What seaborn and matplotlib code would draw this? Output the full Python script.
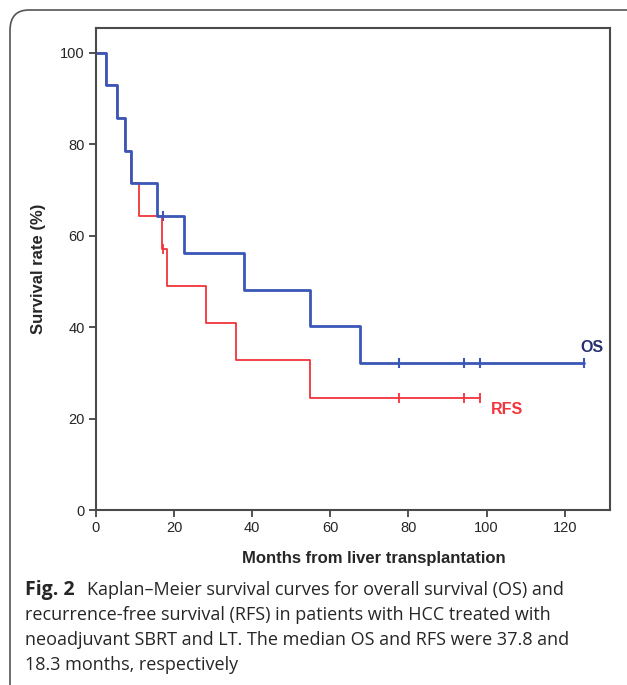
import pandas as pd
import matplotlib.pyplot as plt
import seaborn as sns
from matplotlib.patches import FancyBboxPatch

# Kaplan-Meier step data (months, survival %)
os_times = [0, 2.6, 5.3, 7.3, 9.0, 15.7, 22.6, 37.8, 54.9, 67.7]
os_surv = [100, 92.9, 85.7, 78.6, 71.4, 64.3, 56.3, 48.2, 40.2, 32.1]
os_end = 125.0
os_cens_t = [17.2, 77.5, 94.2, 98.3, 125.0]
os_cens_s = [64.3, 32.1, 32.1, 32.1, 32.1]

rfs_times = [0, 2.6, 5.3, 7.3, 9.0, 11.1, 16.8, 18.3, 28.2, 35.9, 54.7]
rfs_surv = [100, 92.9, 85.7, 78.6, 71.4, 64.3, 57.1, 49.0, 40.8, 32.7, 24.5]
rfs_end = 98.3
rfs_cens_t = [17.1, 77.5, 94.2, 98.3]
rfs_cens_s = [57.1, 24.5, 24.5, 24.5]

x_ticks = [0, 20, 40, 60, 80, 100, 120]
y_ticks = [0, 20, 40, 60, 80, 100]

blue = "#3a57b8"
red = "#f2333a"

sns.set_style("white")
plt.rcParams['font.family'] = ['Liberation Sans', 'DejaVu Sans']

df_os = pd.DataFrame({"t": os_times + [os_end], "s": os_surv + [os_surv[-1]]})
df_rfs = pd.DataFrame({"t": rfs_times + [rfs_end], "s": rfs_surv + [rfs_surv[-1]]})

fig = plt.figure(figsize=(6.27, 6.85), dpi=100)

# outer rounded frame (clipped at right/bottom like the page crop)
frame = FancyBboxPatch((10 / 627, -0.05), 1.1, 1 - 10 / 685 + 0.05,
                       boxstyle="round,pad=0,rounding_size=0.03",
                       transform=fig.transFigure, fill=False,
                       edgecolor="#555555", linewidth=1.2)
fig.patches.append(frame)

ax = fig.add_axes([96 / 627, 1 - 510 / 685, (610 - 96) / 627, (510 - 28) / 685])

sns.lineplot(data=df_rfs, x="t", y="s", drawstyle="steps-post", estimator=None,
             sort=False, color=red, linewidth=1.3, ax=ax)
sns.scatterplot(x=rfs_cens_t, y=rfs_cens_s, marker="|", s=50, color=red,
                linewidth=1.3, ax=ax)
sns.lineplot(data=df_os, x="t", y="s", drawstyle="steps-post", estimator=None,
             sort=False, color=blue, linewidth=2.0, ax=ax)
sns.scatterplot(x=os_cens_t, y=os_cens_s, marker="|", s=50, color=blue,
                linewidth=1.5, ax=ax)

ax.text(123.9, 34.0, "OS", color="#26306e", fontsize=11.5, fontweight="bold", ha="left", va="bottom")
ax.text(101, 23.6, "RFS", color=red, fontsize=11.5, fontweight="bold", ha="left", va="top")

ax.set_xlim(0, 131.6)
ax.set_ylim(0, 105.4)
ax.set_xticks(x_ticks)
ax.set_yticks(y_ticks)
ax.tick_params(axis="both", direction="out", length=5, width=1.2, color="#333333",
               labelsize=10.5, pad=3, bottom=True, left=True)
for sp in ax.spines.values():
    sp.set_color("#4a4a4a")
    sp.set_linewidth(1.5)

ax.set_xlabel("Months from liver transplantation", fontsize=12, fontweight="bold", labelpad=8)
ax.xaxis.set_label_coords(0.54, -0.085)
ax.set_ylabel("Survival rate (%)", fontsize=12, fontweight="bold", labelpad=10)

cap_font = ['Open Sans', 'DejaVu Sans']
fig.text(25 / 627, 1 - 590 / 685, "Fig. 2", fontsize=14, fontweight="bold",
         family=cap_font, va="center", ha="left")
fig.text(87 / 627, 1 - 590 / 685, "Kaplan\u2013Meier survival curves for overall survival (OS) and",
         fontsize=13, family=cap_font, va="center", ha="left")
fig.text(25 / 627, 1 - 615 / 685, "recurrence-free survival (RFS) in patients with HCC treated with",
         fontsize=13, family=cap_font, va="center", ha="left")
fig.text(25 / 627, 1 - 640 / 685, "neoadjuvant SBRT and LT. The median OS and RFS were 37.8 and",
         fontsize=13, family=cap_font, va="center", ha="left")
fig.text(25 / 627, 1 - 665 / 685, "18.3 months, respectively",
         fontsize=13, family=cap_font, va="center", ha="left")

plt.savefig("out.png", dpi=100)
